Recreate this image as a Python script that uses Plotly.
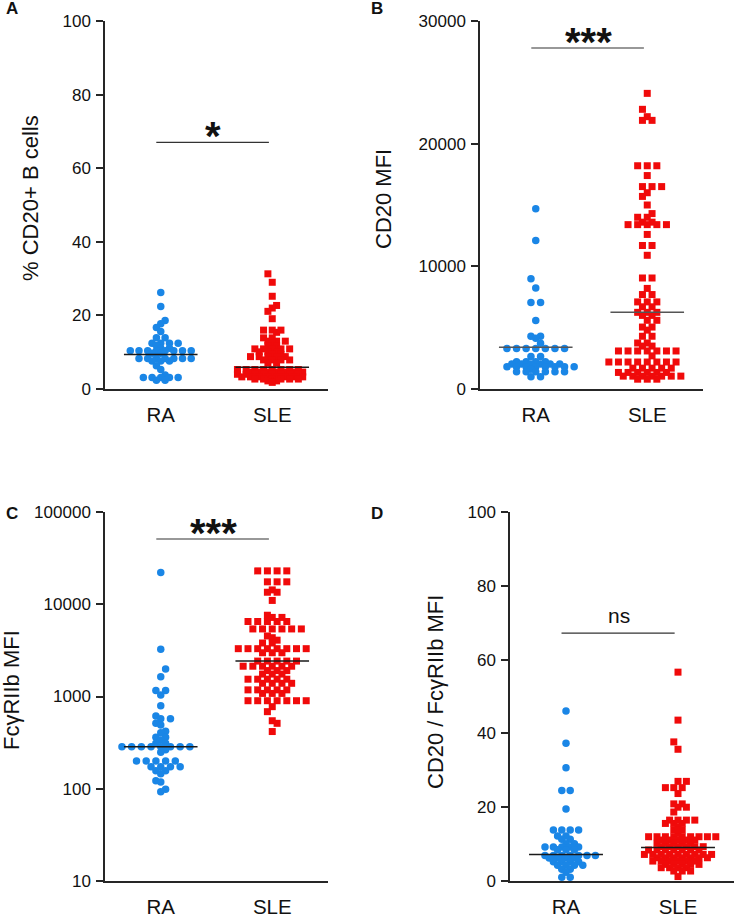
import math
import plotly.graph_objects as go

# ---------------- data ----------------
CATEGORIES = ["RA", "SLE"]

A_RA = [26.2, 22.4, 18.6, 17.7, 16.7, 15.6, 13.9, 13.9,
        12.4, 12.4, 12.4, 12.4, 11.8, 11.1, 11.1,
        10.4, 10.4, 10.4, 10.4, 10.4, 10.4, 10.4, 10.4, 9.7, 9.7,
        8.3, 8.3, 8.3, 8.3, 8.3, 8.3, 8.3, 7.6, 7.6, 7.6,
        6.3, 5.3, 3.8, 3.1, 3.1, 3.1, 3.1, 3.1, 2.4, 2.4]
A_SLE = [31.3, 29.0, 25.2, 22.7, 22.0, 21.1, 19.1, 16.0, 16.0, 16.0, 15.4,
         13.9, 13.9, 13.0, 13.0, 13.0, 12.4, 11.8, 11.8,
         10.9, 10.9, 10.9, 10.9, 10.9, 10.1, 10.1, 10.1, 9.4, 9.4,
         8.8, 8.8, 8.8, 8.8, 8.8, 7.9, 7.9, 7.9, 7.9, 7.0, 7.0,
         5.3, 5.3, 5.3, 5.3, 5.3, 5.3, 5.3, 5.3,
         4.6, 4.6, 4.6, 4.6, 4.6, 4.6, 4.6,
         4.0, 4.0, 4.0, 4.0, 4.0, 4.0, 4.0, 4.0,
         3.3, 3.3, 3.3, 3.3, 3.3, 3.3, 3.3, 3.3,
         2.7, 2.7, 2.7, 2.7, 2.7, 2.7, 2.2, 2.2, 1.8]
A_LINES = [9.4, 5.9]

B_RA = [14690, 12110, 8990, 8230, 7050, 7050, 5590, 4300, 4300, 4130, 3720,
        3300, 3300, 3300, 3300, 3300, 3300, 3300, 2640, 2640,
        2230, 2230, 2230, 2230, 2040, 2040, 2040, 2040, 2040, 2040,
        1820, 1820, 1820, 1820, 1820, 1820, 1820, 1820, 1600,
        1410, 1410, 1410, 1410, 1410, 1410, 1000, 1000]
B_SLE = [24100, 22800, 22200, 21900, 21900, 18200, 18200, 18200, 17400,
         16500, 16500, 16500, 16000, 15700, 15000, 14300, 14000, 14000,
         13600, 13600, 13400, 13400, 13400, 13400, 13400, 12600, 11700, 11700,
         10900, 9050, 9050, 8200, 7700, 7700, 7100, 7100, 7100, 6700, 6700,
         6250, 6250, 6250, 6000, 6000, 5600, 5600, 5050, 5050, 4800,
         4300, 4300, 3750, 3750, 3500, 3500,
         3100, 3100, 3100, 3100, 3100, 3100, 3100, 2700,
         2200, 2200, 2200, 2200, 2200, 2200, 2200, 2200,
         1700, 1700, 1700, 1700, 1700,
         1350, 1350, 1350, 1350, 1350, 1350,
         1050, 1050, 1050, 1050, 1050, 1050, 1050, 800, 800, 800]
B_LINES = [3400, 6250]

C_RA = [22100, 3250, 1990, 1640, 1160, 1160, 1040, 795, 614, 575, 575, 512,
        490, 420, 405, 362, 362, 337, 312, 312,
        285, 285, 285, 285, 285, 285, 285, 285, 265, 248,
        200, 200, 200, 200, 200, 173, 173, 173, 173, 157, 157,
        145, 122, 118, 99, 93]
C_SLE = [23000, 23000, 23000, 23000, 17500, 17500, 17500, 14300, 13500, 13500,
         11000, 7600, 7200, 7200, 6500, 6500, 6500, 6500, 6500,
         5400, 5400, 5400, 5400, 5400, 5400, 4530, 4340, 4080, 3800, 3800,
         3300, 3300, 3300, 3300, 3300, 3300, 3300, 3300, 2980, 2980, 2980,
         2420, 2420, 2420, 2420, 2420, 2130, 2130, 2130, 2130, 2130, 2130,
         1910, 1910, 1910, 1750, 1750, 1750, 1540, 1540, 1540, 1540, 1540,
         1390, 1390, 1390, 1390, 1180, 1180, 1180, 1180, 1180, 1080, 1080, 1080,
         900, 900, 900, 900, 900, 900, 900, 776, 685, 546, 512, 417]
C_LINES = [285, 2430]

D_RA = [46.1, 37.3, 30.7, 24.5, 24.5, 19.5, 13.8, 13.8, 13.8, 13.8,
        12.2, 12.2, 11.3, 11.3, 10.1, 10.1, 9.2, 9.2, 9.2, 9.2, 9.2,
        8.5, 8.5, 8.5, 6.9, 6.9, 6.9, 6.9, 6.9, 6.9, 6.9,
        6.2, 6.2, 6.2, 6.2, 5.2, 5.2, 5.2, 5.2, 4.3, 4.3, 4.3, 4.3,
        3.2, 3.2, 2.4, 1.0, 1.0]
D_SLE = [56.6, 43.6, 37.7, 35.7, 27.0, 27.0, 25.3, 25.3, 25.3, 23.7,
         20.9, 20.9, 20.0, 20.0, 18.7, 16.5, 16.5, 16.5, 16.5, 15.6, 15.6, 15.6,
         14.7, 13.8, 13.8, 12.9,
         12.0, 12.0, 12.0, 12.0, 12.0, 12.0, 12.0, 12.0, 12.0,
         11.1, 11.1, 11.1, 11.1, 11.1, 10.2, 10.2, 10.2, 10.2, 10.2,
         9.3, 9.3, 9.3, 9.3, 9.3, 9.3, 8.4, 8.4, 8.4, 8.4, 8.4, 8.4, 8.4,
         7.2, 7.2, 7.2, 7.2, 7.2, 7.2, 7.2, 7.2, 7.2,
         6.3, 6.3, 6.3, 6.3, 6.3, 6.3, 6.3, 5.4, 5.4, 5.4, 5.4, 5.4, 5.4,
         4.5, 4.5, 4.5, 4.5, 4.5, 3.6, 3.6, 3.6, 3.6, 2.7, 2.7, 2.7, 1.2]
D_LINES = [7.2, 9.1]

SIG_LABELS = ["*", "***", "***", "ns"]
SIG_LEVELS = [67, 27800, 51000, 67.2]
SIG_X = [-0.04, 0.97]

Y_TITLES = ["% CD20+ B cells", "CD20 MFI", "FcγRIIb MFI", "CD20 / FcγRIIb MFI"]
PANEL_LETTERS = ["A", "B", "C", "D"]

A_TICKS = [0, 20, 40, 60, 80, 100]
B_TICKS = [0, 10000, 20000, 30000]
C_TICKS = [10, 100, 1000, 10000, 100000]
D_TICKS = [0, 20, 40, 60, 80, 100]

# ---------------- styling / layout ----------------
W, H = 734, 918
FONT = "Liberation Sans, Arial, sans-serif"
BLUE = "#1a86e6"
RED = "#f00a0a"
AX = "#262626"


def px_x(x):
    return x / W


def px_y(y):
    return 1 - y / H


# pixel boxes of each panel plot area: (x0, x1, y0, y1)
BOX = [(105, 328, 21, 389), (480, 703, 21, 389),
       (105, 328, 512, 881), (510, 734, 512, 881)]
SPACING = [8.7, 9.6, 9.7, 8.4]
TITLE_POS = [(30, 198), (384, 199), (11, 690), (435, 692)]
LETTER_POS = [(12, 9), (377, 9), (12, 513), (377, 513)]

panels = [
    dict(ra=A_RA, sle=A_SLE, lines=A_LINES, ticks=A_TICKS, log=False, rng=[0, 100], lc="#1a1a1a"),
    dict(ra=B_RA, sle=B_SLE, lines=B_LINES, ticks=B_TICKS, log=False, rng=[0, 30000], lc="#555555"),
    dict(ra=C_RA, sle=C_SLE, lines=C_LINES, ticks=C_TICKS, log=True, rng=[1, 5], lc="#1a1a1a"),
    dict(ra=D_RA, sle=D_SLE, lines=D_LINES, ticks=D_TICKS, log=False, rng=[0, 100], lc="#1a1a1a"),
]


def swarm(vals, to_px, d, px_per_unit):
    """Prism-like row layout: equal values share a row, neighbouring rows interleave."""
    n = len(vals)
    order = sorted(range(n), key=lambda i: vals[i])
    rows = []
    for i in order:
        y = to_px(vals[i])
        if rows and abs(rows[-1][0] - y) < 0.6:
            rows[-1][1].append(i)
        else:
            rows.append([y, [i]])
    offs = [0.0] * n
    prev = None
    sign = 1
    for y, idx in rows:
        m = len(idx)
        nat_frac = 0.0 if m % 2 == 1 else d / 2
        shift = 0.0
        if prev is not None and abs(y - prev[0]) < d:
            pfrac = prev[1] % d
            want = (pfrac + d / 2) % d
            s = (want - nat_frac) % d
            if abs(s - d / 2) < 1e-6:
                shift = sign * d / 2
                sign = -sign
            elif s > 1e-6 and abs(s - d) > 1e-6:
                shift = s
        for k, i in enumerate(idx):
            offs[i] = ((k - (m - 1) / 2) * d + shift) / px_per_unit
        prev = (y, nat_frac + shift)
    return offs


fig = go.Figure()
layout = dict(template="none", width=W, height=H,
              margin=dict(l=0, r=0, t=0, b=0, pad=0, autoexpand=False),
              paper_bgcolor="white", plot_bgcolor="white", showlegend=False,
              font=dict(family=FONT, color="#111111"))
annotations = []

for p, (pan, box) in enumerate(zip(panels, BOX)):
    n = p + 1
    xs = "x" if n == 1 else f"x{n}"
    ys = "y" if n == 1 else f"y{n}"
    x0, x1, y0, y1 = box
    hpx = y1 - y0
    ppu = (x1 - x0) / 2.0
    if pan["log"]:
        to_px = lambda v, h=hpx: (math.log10(v) - 1) / 4 * h
    else:
        to_px = lambda v, h=hpx, r=pan["rng"][1]: v / r * h

    for g, (vals, sym, col, sz) in enumerate([(pan["ra"], "circle", BLUE, 7.5),
                                              (pan["sle"], "square", RED, 7)]):
        offs = swarm(vals, to_px, SPACING[p], ppu)
        fig.add_trace(go.Scatter(x=[g + o for o in offs], y=vals, mode="markers",
                                 marker=dict(symbol=sym, color=col, size=sz, line=dict(width=0)),
                                 cliponaxis=False, xaxis=xs, yaxis=ys, hoverinfo="skip"))
    for g, m in enumerate(pan["lines"]):
        fig.add_trace(go.Scatter(x=[g - 0.33, g + 0.33], y=[m, m], mode="lines",
                                 line=dict(color=pan["lc"], width=1.5),
                                 cliponaxis=False, xaxis=xs, yaxis=ys, hoverinfo="skip"))
    # significance bar
    s = SIG_LEVELS[p]
    fig.add_trace(go.Scatter(x=SIG_X, y=[s, s], mode="lines",
                             line=dict(color="#333333", width=1.2),
                             cliponaxis=False, xaxis=xs, yaxis=ys, hoverinfo="skip"))
    is_ns = SIG_LABELS[p] == "ns"
    annotations.append(dict(
        x=0.47, y=math.log10(s) if pan["log"] else s, xref=xs, yref=ys,
        text=SIG_LABELS[p], showarrow=False, xanchor="center",
        yanchor="bottom" if is_ns else "middle",
        yshift=4 if is_ns else 6,
        font=dict(size=21 if is_ns else 40, color="#111111",
                  family=FONT, weight="normal" if is_ns else "bold")))

    xa = dict(domain=[px_x(x0), px_x(x1)], range=[-0.5, 1.5], tickmode="array",
              tickvals=[0, 1], ticktext=CATEGORIES, showline=True, linecolor=AX,
              linewidth=1.5, ticks="", tickfont=dict(size=20.5, color="#111111"),
              ticklabelstandoff=7, showgrid=False, zeroline=False, automargin=False,
              anchor=ys, fixedrange=True)
    ya = dict(domain=[px_y(y1), px_y(y0)], range=pan["rng"], tickmode="array",
              tickvals=pan["ticks"], ticktext=[str(t) for t in pan["ticks"]],
              showline=True, linecolor=AX, linewidth=1.5, ticks="outside",
              ticklen=7, tickwidth=1.5, tickcolor=AX,
              tickfont=dict(size=17, color="#111111"), ticklabelstandoff=2,
              showgrid=False, zeroline=False, automargin=False, anchor=xs, fixedrange=True)
    if pan["log"]:
        ya["type"] = "log"
    layout["xaxis" if n == 1 else f"xaxis{n}"] = xa
    layout["yaxis" if n == 1 else f"yaxis{n}"] = ya

    tx, ty = TITLE_POS[p]
    annotations.append(dict(x=px_x(tx), y=px_y(ty), xref="paper", yref="paper",
                            text=Y_TITLES[p], textangle=-90, showarrow=False,
                            xanchor="center", yanchor="middle",
                            font=dict(size=22, color="#111111", family=FONT)))
    lx, ly = LETTER_POS[p]
    annotations.append(dict(x=px_x(lx), y=px_y(ly), xref="paper", yref="paper",
                            text=f"<b>{PANEL_LETTERS[p]}</b>", showarrow=False,
                            xanchor="center", yanchor="middle",
                            font=dict(size=17, color="#111111", family=FONT)))

layout["annotations"] = annotations
fig.update_layout(**layout)
# let the figure sit at the page's top-left corner (no default 8px body margin)
fig.write_html("out.html", config={"displayModeBar": False},
               post_script="document.body.style.margin='0';")
